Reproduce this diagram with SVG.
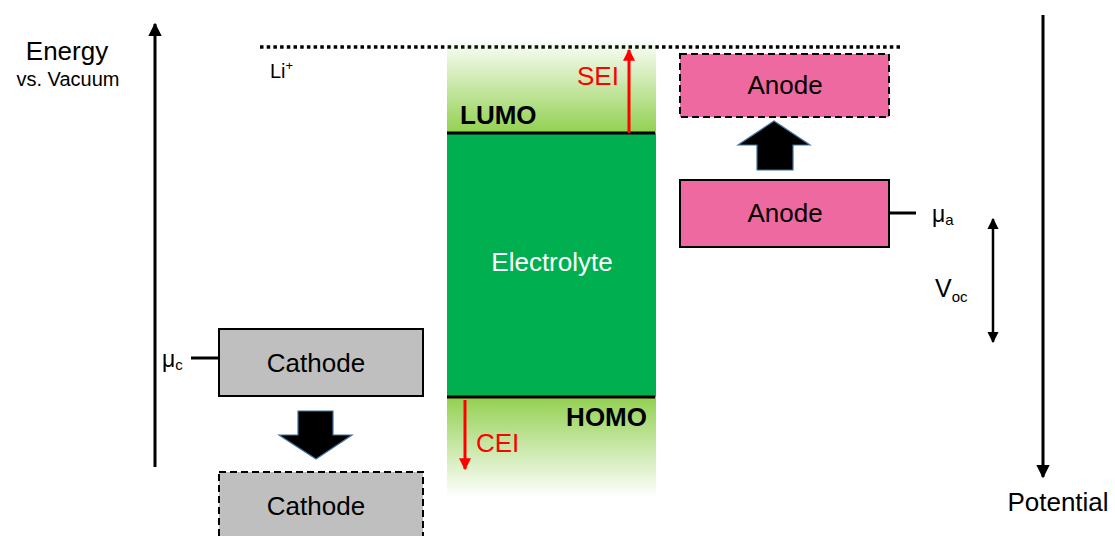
<svg xmlns="http://www.w3.org/2000/svg" width="1115" height="536" viewBox="0 0 1115 536">
<style>
text{font-family:"Liberation Sans",Arial,sans-serif;fill:#000}
.lbl{font-size:26px;text-anchor:middle}
.bold{font-size:26px;font-weight:bold}
.red{fill:#FF0000;font-size:26px}
.sym{font-size:23px}
.box{stroke:#000;stroke-width:2}
.dash{stroke:#000;stroke-width:2;stroke-dasharray:7,4}
.blk{fill:#000;stroke:#41719C;stroke-width:1.2}
</style>
<defs>
<linearGradient id="gTop" x1="0" y1="0" x2="0" y2="1">
<stop offset="0" stop-color="#92D050" stop-opacity="0"/>
<stop offset="1" stop-color="#92D050"/>
</linearGradient>
<linearGradient id="gBot" x1="0" y1="0" x2="0" y2="1">
<stop offset="0" stop-color="#92D050"/>
<stop offset="1" stop-color="#92D050" stop-opacity="0"/>
</linearGradient>
<marker id="ah" viewBox="0 0 10 10" refX="9" refY="5" markerWidth="4.5" markerHeight="4.5" orient="auto-start-reverse">
<path d="M0,0 L10,5 L0,10 z" fill="#000"/>
</marker>
<marker id="ahr" viewBox="0 0 10 10" refX="9" refY="5" markerWidth="4" markerHeight="4" orient="auto">
<path d="M0,0 L10,5 L0,10 z" fill="#FF0000"/>
</marker>
</defs>

<g id="axes">
<line x1="155" y1="467" x2="155" y2="24" stroke="#000" stroke-width="3" marker-end="url(#ah)"/>
<text x="67" y="60" class="lbl">Energy</text>
<text x="68" y="86" style="font-size:20px;text-anchor:middle">vs. Vacuum</text>
<line x1="1043" y1="15" x2="1043" y2="477" stroke="#000" stroke-width="3" marker-end="url(#ah)"/>
<text x="1058" y="511" class="lbl">Potential</text>
</g>

<g id="li-level">
<line x1="260" y1="47" x2="900" y2="47" stroke="#000" stroke-width="3.5" stroke-dasharray="3.5,3.2"/>
<text x="270" y="78" style="font-size:20px">Li<tspan dy="-8" font-size="13">+</tspan></text>
</g>

<g id="electrolyte">
<rect x="447" y="38" width="209" height="95" fill="url(#gTop)"/>
<rect x="447" y="397" width="209" height="100" fill="url(#gBot)"/>
<rect x="447" y="133" width="209" height="264" fill="#00B050"/>
<line x1="447" y1="133" x2="655" y2="133" stroke="#000" stroke-width="3"/>
<line x1="447" y1="397" x2="655" y2="397" stroke="#000" stroke-width="3"/>
<text x="552" y="271" class="lbl" style="fill:#fff">Electrolyte</text>
<text x="460" y="124" class="bold">LUMO</text>
<text x="647" y="426" class="bold" text-anchor="end">HOMO</text>
<text x="577" y="85" class="red">SEI</text>
<text x="476" y="452" class="red">CEI</text>
</g>

<g id="cathode">
<rect x="219" y="329" width="204" height="67" fill="#BFBFBF" class="box"/>
<text x="316" y="372" class="lbl">Cathode</text>
<line x1="191" y1="358" x2="219" y2="358" stroke="#000" stroke-width="3"/>
<text x="162" y="367" class="sym">μ<tspan dy="3" font-size="15">c</tspan></text>
</g>

<g id="cathode-new">
<rect x="219" y="472" width="204" height="70" fill="#BFBFBF" class="dash"/>
<text x="316" y="515" class="lbl">Cathode</text>
</g>

<g id="anode">
<rect x="680" y="180" width="209" height="67" fill="#EE69A0" class="box"/>
<text x="785" y="222" class="lbl">Anode</text>
<line x1="889" y1="213" x2="916" y2="213" stroke="#000" stroke-width="3"/>
<text x="932" y="222" class="sym">μ<tspan dy="3" font-size="15">a</tspan></text>
</g>

<g id="anode-new">
<rect x="680" y="54" width="209" height="63" fill="#EE69A0" class="dash"/>
<text x="785" y="94" class="lbl">Anode</text>
</g>

<g id="voc">
<text x="935" y="297" style="font-size:25px">V<tspan dy="5" font-size="15">oc</tspan></text>
</g>

<g id="connectors">
<line x1="629" y1="133" x2="629" y2="50" stroke="#FF0000" stroke-width="3" marker-end="url(#ahr)"/>
<line x1="465" y1="400" x2="465" y2="469" stroke="#FF0000" stroke-width="3" marker-end="url(#ahr)"/>
<line x1="993" y1="219" x2="993" y2="342" stroke="#000" stroke-width="2.5" marker-start="url(#ah)" marker-end="url(#ah)"/>
<path class="blk" d="M298,411 H333 V435 H352 L316,459 L279,435 H298 Z"/>
<path class="blk" d="M757,170 H793 V145 H810 L774,121 L738,145 H757 Z"/>
</g>
</svg>
